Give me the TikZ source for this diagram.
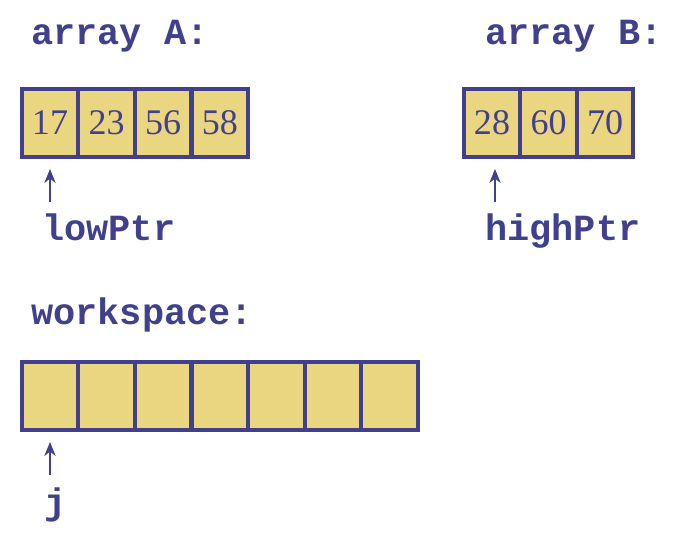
\documentclass[tikz,border=0pt]{standalone}
\usepackage{fontspec}
\setmainfont{Liberation Serif}
\newfontfamily\codefont{Liberation Mono}
\usetikzlibrary{arrows.meta}
\definecolor{navy}{RGB}{64,64,140}
\definecolor{cellY}{RGB}{234,214,128}
\begin{document}
\begin{tikzpicture}[x=0.02cm,y=-0.02cm,
  cell/.style={shape=rectangle,draw=navy,fill=cellY,line width=2.3pt,minimum width=1.13cm,minimum height=1.36cm,inner sep=0pt,text=navy,font=\fontsize{20.5}{24}\selectfont},
  lbl/.style={anchor=base west,text=navy,inner sep=0pt,font=\codefont\bfseries\fontsize{21}{24}\selectfont},
  ptr/.style={draw=navy,line width=0.7pt,-{Stealth[length=8pt,width=6.5pt]},shorten >=10*0.02cm}]
\useasboundingbox (0,0) rectangle (699,536);
\def\dx{56.6};

% array A
\node[lbl] (labA) at (31,45) {array A:};
\node[cell] (A1) at (50,123) {17};
\node[cell] (A2) at (50+\dx,123) {23};
\node[cell] (A3) at (50+2*\dx,123) {56};
\node[cell] (A4) at (50+3*\dx,123) {58};

% array B
\node[lbl] (labB) at (485,45) {array B:};
\node[cell] (B1) at (492,123) {28};
\node[cell] (B2) at (492+\dx,123) {60};
\node[cell] (B3) at (492+2*\dx,123) {70};

% pointers into A and B
\node[lbl] (lowPtr) at (42,241) {lowPtr};
\coordinate (lowTail) at (50,202);
\draw[ptr] (lowTail) -- (A1.south);
\node[lbl] (highPtr) at (485,241) {highPtr};
\coordinate (highTail) at (495,202);
\draw[ptr] (highTail) -- (B1.south -| highTail);

% workspace
\node[lbl] (labW) at (31,325) {workspace:};
\node[cell] (W1) at (50,396) {};
\node[cell] (W2) at (50+\dx,396) {};
\node[cell] (W3) at (50+2*\dx,396) {};
\node[cell] (W4) at (50+3*\dx,396) {};
\node[cell] (W5) at (50+4*\dx,396) {};
\node[cell] (W6) at (50+5*\dx,396) {};
\node[cell] (W7) at (50+6*\dx,396) {};

\node[lbl] (j) at (44,514) {j};
\coordinate (jTail) at (50,475);
\draw[ptr] (jTail) -- (W1.south);
\end{tikzpicture}
\end{document}
